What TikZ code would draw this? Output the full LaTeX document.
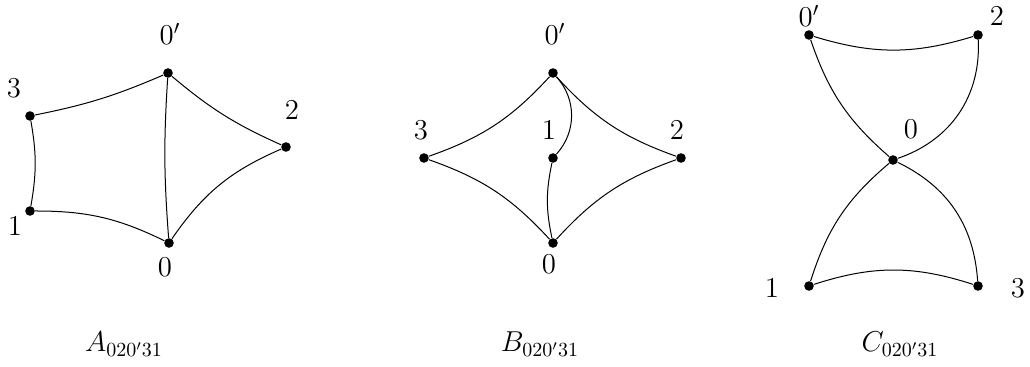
\documentclass[tikz,border=0pt]{standalone}
\begin{document}
\begin{tikzpicture}[x=0.5pt,y=-0.5pt,
  dot/.style={circle,fill=black,inner sep=0pt,minimum size=4.8pt},
  lbl/.style={inner sep=0pt,font=\fontsize{14.4}{17}\selectfont},
  captext/.style={inner sep=0pt,anchor=base,font=\fontsize{14.4}{17}\selectfont},
  edge/.style={line width=0.5pt}]
\useasboundingbox (0,0) rectangle (1030,367);
% ---------- A ----------
\node[dot] (a0p) at (168,73) {};
\node[dot] (a3) at (30,116) {};
\node[dot] (a2) at (286,147) {};
\node[dot] (a1) at (30,211) {};
\node[dot] (a0) at (169,243) {};
\node[lbl] (la0p) at (170,34) {$0'$};
\node[lbl] (la3) at (14,88) {$3$};
\node[lbl] (la2) at (292,110) {$2$};
\node[lbl] (la1) at (15,226) {$1$};
\node[lbl] (la0) at (165,267) {$0$};
\draw[edge] (a3) to[bend right=6] (a0p);
\draw[edge] (a3) to[bend left=10] (a1);
\draw[edge] (a1) to[bend left=13] (a0);
\draw[edge] (a0p) to[bend right=4] (a0);
\draw[edge] (a0p) to[bend right=8] (a2);
\draw[edge] (a2) to[bend right=16] (a0);
\node[captext] (capa) at (124,352) {$A_{020'31}$};
% ---------- B ----------
\node[dot] (b0p) at (553,73) {};
\node[dot] (b3) at (424,158) {};
\node[dot] (b1) at (553,158) {};
\node[dot] (b2) at (681,158) {};
\node[dot] (b0) at (553,243) {};
\node[lbl] (lb0p) at (555,34) {$0'$};
\node[lbl] (lb3) at (421,130) {$3$};
\node[lbl] (lb1) at (549,130) {$1$};
\node[lbl] (lb2) at (677,130) {$2$};
\node[lbl] (lb0) at (549,264) {$0$};
\draw[edge] (b0p) to[bend left=14] (b3);
\draw[edge] (b3) to[bend left=14] (b0);
\draw[edge] (b0) to[bend left=14] (b2);
\draw[edge] (b2) to[bend left=14] (b0p);
\draw[edge] (b0p) to[bend left=42] (b1);
\draw[edge] (b1) to[bend right=12] (b0);
\node[captext] (capb) at (540,352) {$B_{020'31}$};
% ---------- C ----------
\node[dot] (c0p) at (809,35) {};
\node[dot] (c2) at (978,35) {};
\node[dot] (c0) at (893,160) {};
\node[dot] (c1) at (809,286) {};
\node[dot] (c3) at (978,286) {};
\node[lbl] (lc0p) at (809,16) {$0'$};
\node[lbl] (lc2) at (997,16) {$2$};
\node[lbl] (lc0) at (911,129) {$0$};
\node[lbl] (lc1) at (772,288) {$1$};
\node[lbl] (lc3) at (1018,288) {$3$};
\draw[edge] (c0p) to[bend right=17] (c2);
\draw[edge] (c0p) to[bend right=15] (c0);
\draw[edge] (c2) to[bend left=37] (c0);
\draw[edge] (c0) to[bend right=16] (c1);
\draw[edge] (c0) to[bend left=30] (c3);
\draw[edge] (c1) to[bend left=18] (c3);
\node[captext] (capc) at (900,352) {$C_{020'31}$};
\end{tikzpicture}
\end{document}
